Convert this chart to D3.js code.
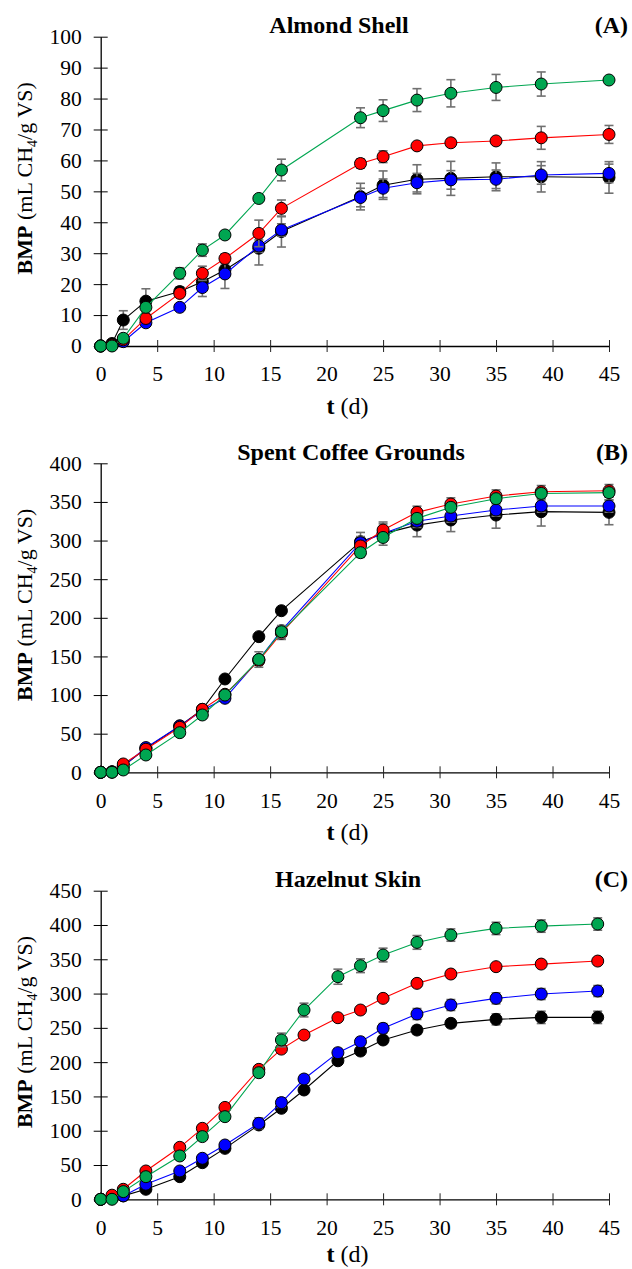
<!DOCTYPE html>
<html>
<head>
<meta charset="utf-8">
<script src="https://cdn.jsdelivr.net/npm/d3@7"></script>
<style>
  html, body { margin: 0; padding: 0; background: #fff; }
  svg { display: block; font-family: "Liberation Serif", "Times New Roman", serif; }
</style>
</head>
<body>
<svg id="chart" width="632" height="1269"></svg>
<script>
// time axis (days)
const tAB = [0, 1, 2, 4, 7, 9, 11, 14, 16, 23, 25, 28, 31, 35, 39, 45];
const tC = [0, 1, 2, 4, 7, 9, 11, 14, 16, 18, 21, 23, 25, 28, 31, 35, 39, 44];
const xTicks = [0, 5, 10, 15, 20, 25, 30, 35, 40, 45];

// (A) Almond Shell
const almondBlack = [0, 0.8, 8.4, 14.5, 17.6, 20.8, 24.6, 31.6, 37, 48.3, 52, 53.9, 54.2, 54.7, 54.7, 54.5];
const almondBlackErr = [0, 0.5, 3, 4, 1.5, 1.5, 1.5, 5.4, 5, 4.3, 4.6, 4.7, 5.5, 4.5, 4.9, 5.1];
const almondBlue = [0, 0.3, 1.4, 7.5, 12.5, 18.9, 23.3, 32.3, 37.5, 48, 51, 52.8, 53.7, 53.9, 55.3, 55.8];
const almondBlueErr = [0, 0.3, 0.5, 1, 0.8, 2.9, 4.7, 2, 2, 3, 3, 3, 3, 3, 3, 3];
const almondRed = [0, 0.3, 2, 8.9, 17, 23.5, 28.3, 36.4, 44.5, 59, 61.2, 64.7, 65.7, 66.3, 67.3, 68.4];
const almondRedErr = [0, 0.3, 0.5, 1, 1, 2.3, 1.5, 4.3, 2.7, 1.5, 1.9, 1, 1.2, 1, 3.7, 2.9];
const almondGreen = [0, 0, 2.5, 12.5, 23.5, 31, 35.9, 47.7, 56.9, 73.8, 76.1, 79.5, 81.7, 83.6, 84.7, 86];
const almondGreenErr = [0, 0, 1, 1, 1.8, 2, 1.2, 1, 3.5, 3.2, 3.5, 3.7, 4.4, 4.2, 3.9, 0.8];

// (B) Spent Coffee Grounds
const coffeeBlack = [0, 0.5, 8, 31, 60, 81.5, 120.8, 175.6, 209.2, 298.5, 309, 320, 326.6, 333, 337.4, 336.5];
const coffeeBlackErr = [0, 0, 1, 2, 2, 2, 2, 2, 2, 12, 15, 15, 15, 17, 18.6, 16];
const coffeeBlue = [0, 0.5, 8, 32, 60, 80, 95.8, 146, 183.3, 297.2, 309, 325, 331.7, 339.5, 344.7, 344.7];
const coffeeBlueErr = [0, 0, 1, 2, 2, 2, 2, 3, 3, 8, 8, 8, 8, 8, 8, 8];
const coffeeRed = [0, 0.5, 10.8, 29.8, 58.2, 81.5, 101, 144.5, 180, 293, 313.6, 336.5, 347.3, 357.6, 363.2, 364.5];
const coffeeRedErr = [0, 0, 1, 2, 2, 2, 2, 5, 8, 5, 8, 8, 8, 8, 8, 8];
const coffeeGreen = [0, 0, 3, 22.4, 51.3, 74.2, 100, 146, 182, 284.3, 304, 328.7, 343, 354.2, 361, 362];
const coffeeGreenErr = [0, 0, 1, 2, 4, 2, 6, 10, 8, 6, 5, 6, 6, 6, 6, 6];

// (C) Hazelnut Skin
const hazelBlack = [0, 2, 5, 14.6, 33, 53.4, 74.3, 108.4, 132.7, 159.4, 202, 216.2, 232.3, 246.8, 256.6, 262.4, 265.3, 265.3];
const hazelBlackErr = [0, 0.5, 1, 2, 3, 3, 3, 5, 5, 5, 5, 5, 5, 6, 6, 8, 9, 9];
const hazelBlue = [0, 1, 5, 22, 41.3, 59.8, 79.2, 110.8, 141, 175.4, 213.8, 229.8, 249.3, 270.2, 283.3, 293, 299.3, 303.7];
const hazelBlueErr = [0, 0.5, 1, 2, 3, 3, 5, 8, 7, 6, 6, 6, 7, 8, 8, 8, 8, 8];
const hazelRed = [0, 6, 14.6, 41.3, 75.8, 103.5, 134, 189.5, 219, 239.5, 264.8, 276, 293, 314.9, 328.5, 339.2, 343, 347.4];
const hazelRedErr = [0, 1, 2, 2, 3, 3, 3, 5, 4, 4, 4, 4, 4, 5, 5, 4, 4, 4];
const hazelGreen = [0, 0, 11.2, 33, 63.2, 91.4, 120.5, 184.6, 232.3, 276, 324.6, 340.6, 356.2, 374.6, 385.3, 395, 398.4, 401.4];
const hazelGreenErr = [0, 0, 1, 2, 3, 3, 3, 5, 10, 10, 11, 10, 10, 10, 9, 9, 9, 9];

const titles = ["Almond Shell", "Spent Coffee Grounds", "Hazelnut Skin"];
const tags = ["(A)", "(B)", "(C)"];
const yMaxes = [100, 400, 450];
const ySteps = [10, 50, 50];

const colors = { black: "#000000", blue: "#0000ff", red: "#ff0000", green: "#00a651" };

// build panels (draw order: black, blue, red, green)
const panels = [
  { t: tAB, series: [
      { c: colors.black, v: almondBlack, e: almondBlackErr },
      { c: colors.blue, v: almondBlue, e: almondBlueErr },
      { c: colors.red, v: almondRed, e: almondRedErr },
      { c: colors.green, v: almondGreen, e: almondGreenErr }],
    top: 36.7, bottom: 346, titleX: 339, xLabelY: 414 },
  { t: tAB, series: [
      { c: colors.black, v: coffeeBlack, e: coffeeBlackErr },
      { c: colors.blue, v: coffeeBlue, e: coffeeBlueErr },
      { c: colors.red, v: coffeeRed, e: coffeeRedErr },
      { c: colors.green, v: coffeeGreen, e: coffeeGreenErr }],
    top: 463.3, bottom: 772.3, titleX: 351, xLabelY: 840 },
  { t: tC, series: [
      { c: colors.black, v: hazelBlack, e: hazelBlackErr },
      { c: colors.blue, v: hazelBlue, e: hazelBlueErr },
      { c: colors.red, v: hazelRed, e: hazelRedErr },
      { c: colors.green, v: hazelGreen, e: hazelGreenErr }],
    top: 890.7, bottom: 1199.3, titleX: 348, xLabelY: 1262 }
];

const svg = d3.select("#chart");
const xLeft = 100.7, xRight = 609;
const x = d3.scaleLinear().domain([0, 45]).range([xLeft, xRight]);
const serif = "Liberation Serif, Times New Roman, serif";

panels.forEach((p, i) => {
  const y = d3.scaleLinear().domain([0, yMaxes[i]]).range([p.bottom, p.top]);
  const g = svg.append("g");

  // y axis
  const yAxis = d3.axisLeft(y)
    .tickValues(d3.range(0, yMaxes[i] + 0.001, ySteps[i]))
    .tickSize(7).tickPadding(12).tickSizeOuter(0);
  const ya = g.append("g").attr("transform", `translate(${xLeft},0)`).call(yAxis);
  ya.selectAll(".tick line").attr("x2", -7).attr("x1", 7);
  ya.select(".domain").attr("stroke", "#000").attr("stroke-width", 1.3);
  ya.selectAll("text").attr("font-size", 21.5).attr("fill", "#000").attr("font-family", serif);

  // x axis
  const xAxis = d3.axisBottom(x).tickValues(xTicks).tickSize(6).tickPadding(14).tickSizeOuter(0);
  const xa = g.append("g").attr("transform", `translate(0,${p.bottom})`).call(xAxis);
  xa.selectAll(".tick line").attr("y1", -6).attr("y2", 6)
    .attr("stroke", d => d === 0 ? "none" : "#222");
  xa.select(".domain").attr("stroke", "#000").attr("stroke-width", 1.3);
  xa.selectAll("text").attr("font-size", 21.5).attr("fill", "#000").attr("font-family", serif);

  // x label
  const xl = g.append("text").attr("x", 347.5).attr("y", p.xLabelY)
    .attr("text-anchor", "middle").attr("font-size", 24);
  xl.append("tspan").attr("font-weight", "bold").text("t");
  xl.append("tspan").text(" (d)");

  // y label
  const yc = (p.top + p.bottom) / 2 - 13;
  const yl = g.append("text")
    .attr("transform", `translate(32,${yc}) rotate(-90)`)
    .attr("text-anchor", "middle").attr("font-size", 22);
  yl.append("tspan").attr("font-weight", "bold").text("BMP");
  yl.append("tspan").text(" (mL CH");
  yl.append("tspan").attr("font-size", 14).attr("dy", 5).text("4");
  yl.append("tspan").attr("dy", -5).text("/g VS)");

  // title and tag
  g.append("text").attr("x", p.titleX).attr("y", p.top - 3.5)
    .attr("text-anchor", "middle").attr("font-size", 24).attr("font-weight", "bold")
    .text(titles[i]);
  g.append("text").attr("x", 628).attr("y", p.top - 3.5)
    .attr("text-anchor", "end").attr("font-size", 24).attr("font-weight", "bold")
    .text(tags[i]);

  // series
  const line = d3.line().x((d, k) => x(p.t[k])).y(d => y(d));
  p.series.forEach(s => {
    const pts = s.v.map((v, k) => ({ t: p.t[k], v: v, e: s.e[k] }));
    const eb = g.append("g").attr("stroke", "#707070").attr("stroke-width", 1.6);
    pts.filter(d => d.e > 0).forEach(d => {
      const cx = x(d.t);
      eb.append("line").attr("x1", cx).attr("x2", cx).attr("y1", y(d.v - d.e)).attr("y2", y(d.v + d.e));
      eb.append("line").attr("x1", cx - 4.5).attr("x2", cx + 4.5).attr("y1", y(d.v - d.e)).attr("y2", y(d.v - d.e));
      eb.append("line").attr("x1", cx - 4.5).attr("x2", cx + 4.5).attr("y1", y(d.v + d.e)).attr("y2", y(d.v + d.e));
    });
    g.append("path").datum(s.v).attr("d", line)
      .attr("fill", "none").attr("stroke", s.c).attr("stroke-width", 1.1);
    g.append("g").selectAll("circle").data(pts).enter().append("circle")
      .attr("cx", d => x(d.t)).attr("cy", d => y(d.v)).attr("r", 6)
      .attr("fill", s.c).attr("stroke", "#000").attr("stroke-width", 1);
  });
});
</script>
</body>
</html>
